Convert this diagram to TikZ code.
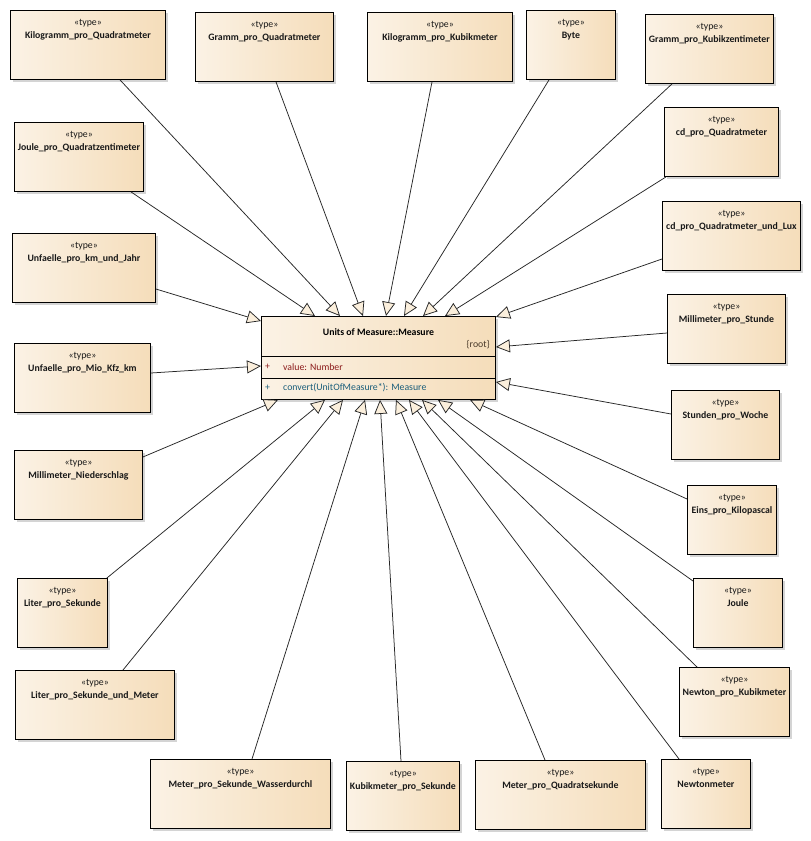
\documentclass[tikz,border=0pt]{standalone}
\usepackage{fontspec}
\setmainfont{Carlito}
\usetikzlibrary{arrows.meta,shadows}
\definecolor{boxL}{HTML}{FBF2E5}
\definecolor{boxR}{HTML}{F5DDBA}
\definecolor{arrfill}{HTML}{FBEFDC}
\definecolor{attrred}{HTML}{8B1A1A}
\definecolor{opteal}{HTML}{1B5E7B}
\definecolor{rootcol}{HTML}{4A3A2A}
\definecolor{shadowgray}{HTML}{D4D4D4}
\tikzset{
  tbox/.style={draw=black, line width=0.9pt, rectangle, anchor=north west, inner sep=0pt,
    minimum height=69pt, left color=boxL, right color=boxR,
    drop shadow={shadow xshift=3pt, shadow yshift=-3pt, fill=shadowgray, opacity=1}},
  ttext/.style={anchor=north, inner sep=0pt, align=center, font=\fontsize{9.8}{13}\selectfont, text=black!90},
  mtext/.style={inner sep=0pt, font=\fontsize{9.8}{11}\selectfont},
  gen/.style={draw=black!85, line width=0.75pt, -{Triangle[length=14pt,width=13pt,fill=arrfill,line width=0.75pt]}}
}
\newcommand\tyb[5]{%
  \node[tbox, minimum width=#4pt] (#1) at (#2,#3) {};
  \node[ttext] (#1t) at ([yshift=-9.5pt]#1.north) {«type»\\\textbf{#5}};}
\begin{document}
\begin{tikzpicture}[x=1pt,y=-1pt]
\useasboundingbox[fill=white] (0,0) rectangle (811,841);
% central class
\node[tbox, minimum width=234pt, minimum height=83pt] (m) at (261,316) {};
\draw[line width=0.9pt] ([yshift=-40pt]m.north west) -- ([yshift=-40pt]m.north east);
\draw[line width=0.9pt] ([yshift=-62pt]m.north west) -- ([yshift=-62pt]m.north east);
\node[mtext, font=\fontsize{9.8}{11}\selectfont\bfseries] (mt) at ([yshift=-16pt]m.north) {Units of Measure::Measure};
\node[mtext, anchor=east, text=rootcol] (mr) at ([xshift=-6pt,yshift=-29pt]m.north east) {\{root\}};
\node[mtext, anchor=west, text=attrred] (ap) at ([xshift=4pt,yshift=-51pt]m.north west) {+};
\node[mtext, anchor=west, text=attrred] (av) at ([xshift=22pt,yshift=-51pt]m.north west) {value: Number};
\node[mtext, anchor=west, text=opteal] (op) at ([xshift=4pt,yshift=-72pt]m.north west) {+};
\node[mtext, anchor=west, text=opteal] (ov) at ([xshift=22pt,yshift=-72pt]m.north west) {convert(UnitOfMeasure*): Measure};
% type boxes
\tyb{kpq}{10}{10}{155}{Kilogramm\_pro\_Quadratmeter}
\tyb{gpq}{195}{12}{138}{Gramm\_pro\_Quadratmeter}
\tyb{kpk}{367}{12}{145}{Kilogramm\_pro\_Kubikmeter}
\tyb{byte}{526}{10}{89}{Byte}
\tyb{gpk}{645}{14}{128}{Gramm\_pro\_Kubikzentimeter}
\tyb{cdq}{664}{107}{114}{cd\_pro\_Quadratmeter}
\tyb{cdl}{662}{201}{138}{cd\_pro\_Quadratmeter\_und\_Lux}
\tyb{jpq}{14}{122}{129}{Joule\_pro\_Quadratzentimeter}
\tyb{ukj}{12}{233}{143}{Unfaelle\_pro\_km\_und\_Jahr}
\tyb{umk}{14}{343}{136}{Unfaelle\_pro\_Mio\_Kfz\_km}
\tyb{mn}{14}{450}{128}{Millimeter\_Niederschlag}
\tyb{mps}{667}{294}{118}{Millimeter\_pro\_Stunde}
\tyb{spw}{671}{390}{108}{Stunden\_pro\_Woche}
\tyb{epk}{687}{485}{89}{Eins\_pro\_Kilopascal}
\tyb{lps}{17}{578}{90}{Liter\_pro\_Sekunde}
\tyb{lpsm}{15}{670}{159}{Liter\_pro\_Sekunde\_und\_Meter}
\tyb{mpsw}{150}{759}{180}{Meter\_pro\_Sekunde\_Wasserdurchl}
\tyb{kps}{346}{761}{113}{Kubikmeter\_pro\_Sekunde}
\tyb{mpq}{475}{760}{170}{Meter\_pro\_Quadratsekunde}
\tyb{nm}{661}{759}{89}{Newtonmeter}
\tyb{npk}{679}{667}{110}{Newton\_pro\_Kubikmeter}
\tyb{joule}{693}{578}{89}{Joule}
% generalizations
\draw[gen] ([xshift=110pt]kpq.south west) -- ([xshift=79pt]m.north west);
\draw[gen] ([xshift=81pt]gpq.south west) -- ([xshift=102pt]m.north west);
\draw[gen] ([xshift=65pt]kpk.south west) -- ([xshift=125pt]m.north west);
\draw[gen] ([xshift=23pt]byte.south west) -- ([xshift=143pt]m.north west);
\draw[gen] ([xshift=27pt]gpk.south west) -- ([xshift=162pt]m.north west);
\draw[gen] ([xshift=2pt]cdq.south west) -- ([xshift=184pt]m.north west);
\draw[gen] ([yshift=-58pt]cdl.north west) -- ([yshift=-1pt]m.north east);
\draw[gen] ([xshift=117pt]jpq.south west) -- ([xshift=54pt]m.north west);
\draw[gen] ([yshift=-56pt]ukj.north east) -- ([yshift=-5pt]m.north west);
\draw[gen] ([yshift=-30pt]umk.north east) -- ([yshift=-50pt]m.north west);
\draw[gen] ([yshift=-7pt]mn.north east) -- ([xshift=17pt]m.south west);
\draw[gen] ([yshift=-39pt]mps.north west) -- ([yshift=-31pt]m.north east);
\draw[gen] ([yshift=-24pt]spw.north west) -- ([yshift=-66pt]m.north east);
\draw[gen] ([yshift=-14pt]epk.north west) -- ([xshift=209pt]m.south west);
\draw[gen] ([xshift=-1pt]lps.north east) -- ([xshift=64pt]m.south west);
\draw[gen] ([xshift=108pt]lpsm.north west) -- ([xshift=82pt]m.south west);
\draw[gen] ([xshift=102pt]mpsw.north west) -- ([xshift=104pt]m.south west);
\draw[gen] ([xshift=55pt]kps.north west) -- ([xshift=119pt]m.south west);
\draw[gen] ([xshift=70pt]mpq.north west) -- ([xshift=135pt]m.south west);
\draw[gen] ([xshift=18pt]nm.north west) -- ([xshift=148pt]m.south west);
\draw[gen] ([xshift=18pt]npk.north west) -- ([xshift=161pt]m.south west);
\draw[gen] ([yshift=-3pt]joule.north west) -- ([xshift=177pt]m.south west);
\end{tikzpicture}
\end{document}
